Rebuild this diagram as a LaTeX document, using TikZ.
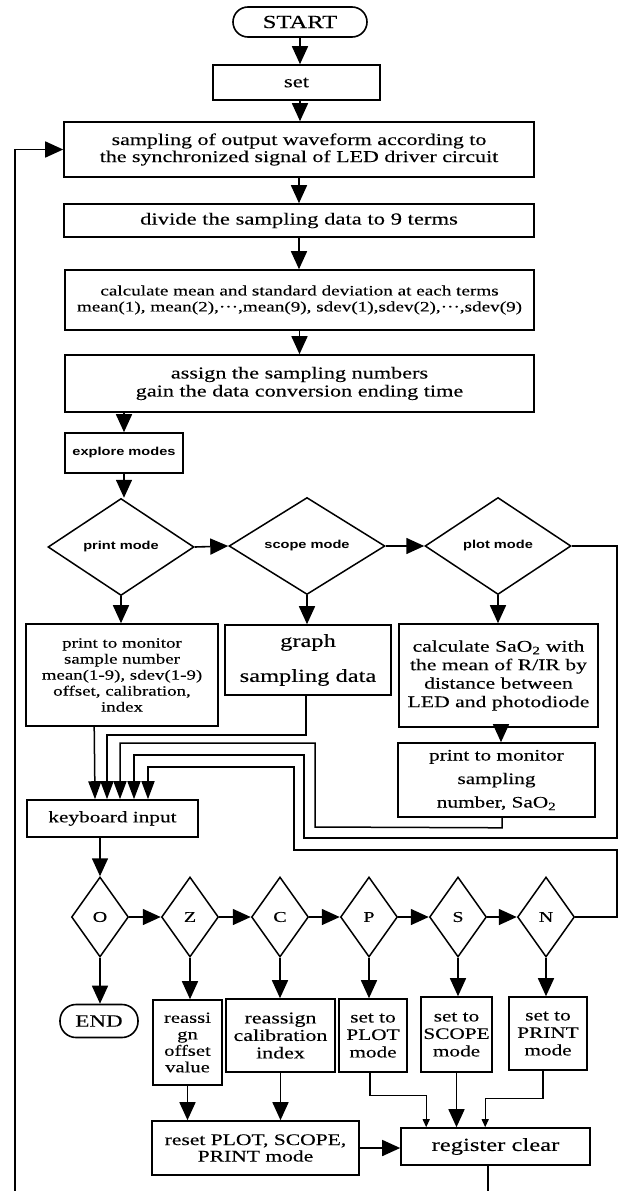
\documentclass[tikz,border=0pt]{standalone}
\usepackage{fontspec}
\usetikzlibrary{arrows.meta,shapes.geometric}
\newfontfamily\bodyfont{Liberation Serif}[FakeStretch=1.33,FakeBold=0.15]
\newfontfamily\lblfont{Liberation Sans}[FakeStretch=1.27]
\newcommand\fsz[2]{\fontsize{#1}{#2}\selectfont}
\begin{document}
\begin{tikzpicture}[x=1pt,y=-1pt,
  fs/.style 2 args={font=\bodyfont\fsz{#1}{#2}},
  box/.style={draw, line width=1.6pt, align=center, inner sep=0pt},
  term/.style={box, rounded corners=15pt},
  bigdia/.style={draw, line width=1.5pt, diamond, inner sep=0pt, minimum width=146pt, minimum height=97pt, font=\lblfont\bfseries\fsz{11.5}{13}},
  keydia/.style={draw, line width=1.5pt, diamond, inner sep=0pt, minimum width=57pt, minimum height=80pt, fs={15}{17}},
  arr/.style={line width=1.6pt, -{Triangle[length=18pt,width=16pt]}},
  barr/.style={line width=1.5pt, -{Triangle[length=18pt,width=13pt]}},
  sarr/.style={line width=1.2pt, -{Triangle[length=8pt,width=7pt]}}
]
\useasboundingbox[fill=white] (0,0) rectangle (621,1191);

% main column
\node[term, minimum width=134pt, minimum height=30pt, fs={18.5}{20}] (start) at (300,22) {START};
\node[box, minimum width=167pt, minimum height=35pt, fs={17}{19}] (set) at (296.5,82.5) {set};
\node[box, minimum width=470pt, minimum height=55pt, fs={16.5}{17}] (sampling) at (299,149.5) {sampling of output waveform according to\\the synchronized signal of LED driver circuit};
\node[box, minimum width=470pt, minimum height=33pt, fs={17}{19}] (divide) at (299,220.5) {divide the sampling data to 9 terms};
\node[box, minimum width=469pt, minimum height=60pt, fs={14.4}{16}] (calc) at (299.5,300) {calculate mean and standard deviation at each terms\\mean(1), mean(2),···,mean(9), sdev(1),sdev(2),···,sdev(9)};
\node[box, minimum width=469pt, minimum height=57pt, fs={16.7}{18}] (assign) at (299.5,383.5) {assign the sampling numbers\\gain the data conversion ending time};
\node[box, minimum width=118pt, minimum height=40pt, font=\lblfont\bfseries\fsz{11.5}{13}] (explore) at (124,453) {explore modes};

% mode diamonds
\node[bigdia] (printd) at (121,547) {print mode};
\node[bigdia, minimum width=156pt] (scoped) at (307,546) {scope mode};
\node[bigdia] (plotd) at (498,546) {plot mode};

% mode boxes
\node[box, minimum width=192pt, minimum height=102pt, fs={14.2}{16}] (printbox) at (122,675) {print to monitor\\sample number\\mean(1-9), sdev(1-9)\\offset, calibration,\\index};
\node[box, minimum width=166pt, minimum height=70pt, fs={18.4}{35}] (graphbox) at (308,660) {graph\\sampling data};
\node[box, minimum width=199pt, minimum height=103pt, fs={16.3}{18.5}] (calcsao) at (498.5,675.5) {calculate SaO\textsubscript{2} with\\the mean of R/IR by\\distance between\\LED and photodiode};
\node[box, minimum width=197pt, minimum height=74pt, fs={16}{23.5}] (printsao) at (496.5,780) {print to monitor\\sampling\\number, SaO\textsubscript{2}};

\node[box, minimum width=171pt, minimum height=37pt, fs={16}{18}] (kb) at (112.5,818.5) {keyboard input};

% key diamonds
\node[keydia] (Od) at (100,917) {O};
\node[keydia] (Zd) at (190,917) {Z};
\node[keydia] (Cd) at (280,917) {C};
\node[keydia] (Pd) at (369,917) {P};
\node[keydia] (Sd) at (458,917) {S};
\node[keydia] (Nd) at (546,917) {N};

% bottom boxes
\node[term, minimum width=78pt, minimum height=33pt, rounded corners=16pt, fs={17.3}{19}] (endn) at (99,1021) {END};
\node[box, minimum width=69pt, minimum height=85pt, fs={15.5}{16.5}] (reassi) at (187.5,1042.5) {reassi\\gn\\offset\\value};
\node[box, minimum width=109pt, minimum height=73pt, fs={16.5}{17.5}] (calib) at (280.5,1035.5) {reassign\\calibration\\index};
\node[box, minimum width=68pt, minimum height=73pt, fs={16}{17.5}] (setplot) at (373,1035.5) {set to\\PLOT\\mode};
\node[box, minimum width=71pt, minimum height=75pt, fs={16}{17.5}] (setscope) at (456.5,1034.5) {set to\\SCOPE\\mode};
\node[box, minimum width=78pt, minimum height=73pt, fs={16}{17.5}] (setprint) at (548,1033.5) {set to\\PRINT\\mode};
\node[box, minimum width=207pt, minimum height=54pt, fs={16.2}{16.5}] (reset) at (255.5,1148) {reset PLOT, SCOPE,\\PRINT mode};
\node[box, minimum width=189pt, minimum height=37pt, fs={18.5}{20}] (register) at (495.5,1146.5) {register clear};

\coordinate (loopL) at (15,1200);

% main column arrows
\draw[arr] (start) -- (start |- set.north);
\draw[arr] ([xshift=3.5pt]set.south) -- ([xshift=3.5pt]set.south |- sampling.north);
\draw[arr] (sampling) -- (sampling |- divide.north);
\draw[arr] (divide) -- (divide |- calc.north);
\draw[arr] (calc) -- (calc |- assign.north);
\draw[arr] (explore |- assign.south) -- (explore.north);
\draw[arr] (explore) -- (explore |- printd.north);
\draw[arr] (printd.east) -- (scoped.west);
\draw[arr] (scoped.east) -- (plotd.west);
\draw[arr] (printd.south) -- (printd.south |- printbox.north);
\draw[arr] (scoped.south) -- (scoped.south |- graphbox.north);
\draw[arr] (plotd.south) -- (plotd.south |- calcsao.north);
\draw[arr] ([xshift=2.5pt]calcsao.south) -- ([xshift=2.5pt]calcsao.south |- printsao.north);

% bus into keyboard input
\draw[barr] ([xshift=69pt]printbox.south west) -- ([xshift=-17.5pt]kb.north);
\draw[barr] ([xshift=-2pt]graphbox.south) -- ++(0,39) -| ([xshift=-5.5pt]kb.north);
\draw[barr] ([xshift=5.5pt]printsao.south) -- ++(0,10) -- (315,827) -- (315,743) -| ([xshift=7.5pt]kb.north);
\draw[barr] (plotd.east) -- (617,546) -- (617,838) -- (304,838) -- (304,755) -| ([xshift=21.5pt]kb.north);
\draw[barr] (Nd.east) -- (617,917) -- (617,850) -- (294,850) -- (294,767) -| ([xshift=35.5pt]kb.north);

% keys
\draw[arr] (kb.south -| Od.north) -- (Od.north);
\draw[arr] (Od.east) -- (Zd.west);
\draw[arr] (Zd.east) -- (Cd.west);
\draw[arr] (Cd.east) -- (Pd.west);
\draw[arr] (Pd.east) -- (Sd.west);
\draw[arr] (Sd.east) -- (Nd.west);
\draw[arr] (Od.south) -- (Od.south |- endn.north);
\draw[arr] (Zd.south) -- (Zd.south |- reassi.north);
\draw[arr] (Cd.south) -- (Cd.south |- calib.north);
\draw[arr] (Pd.south) -- (Pd.south |- setplot.north);
\draw[arr] (Sd.south) -- (Sd.south |- setscope.north);
\draw[arr] (Nd.south) -- (Nd.south |- setprint.north);

% bottom
\draw[arr] (reassi.south) -- (reassi.south |- reset.north);
\draw[arr] (calib.south) -- (calib.south |- reset.north);
\draw[arr] (reset.east) -- (reset.east -| register.west);
\draw[sarr] ([xshift=-3pt]setplot.south) -- ++(0,23) -| ([xshift=26pt]register.north west);
\draw[arr] (setscope.south) -- (setscope.south |- register.north);
\draw[sarr] ([xshift=-5pt]setprint.south) -- ++(0,28) -| ([xshift=85pt]register.north west);
\draw[line width=1.6pt] ([xshift=-7.5pt]register.south) |- (loopL);
\draw[arr] (loopL) |- (sampling.west);
\end{tikzpicture}
\end{document}
